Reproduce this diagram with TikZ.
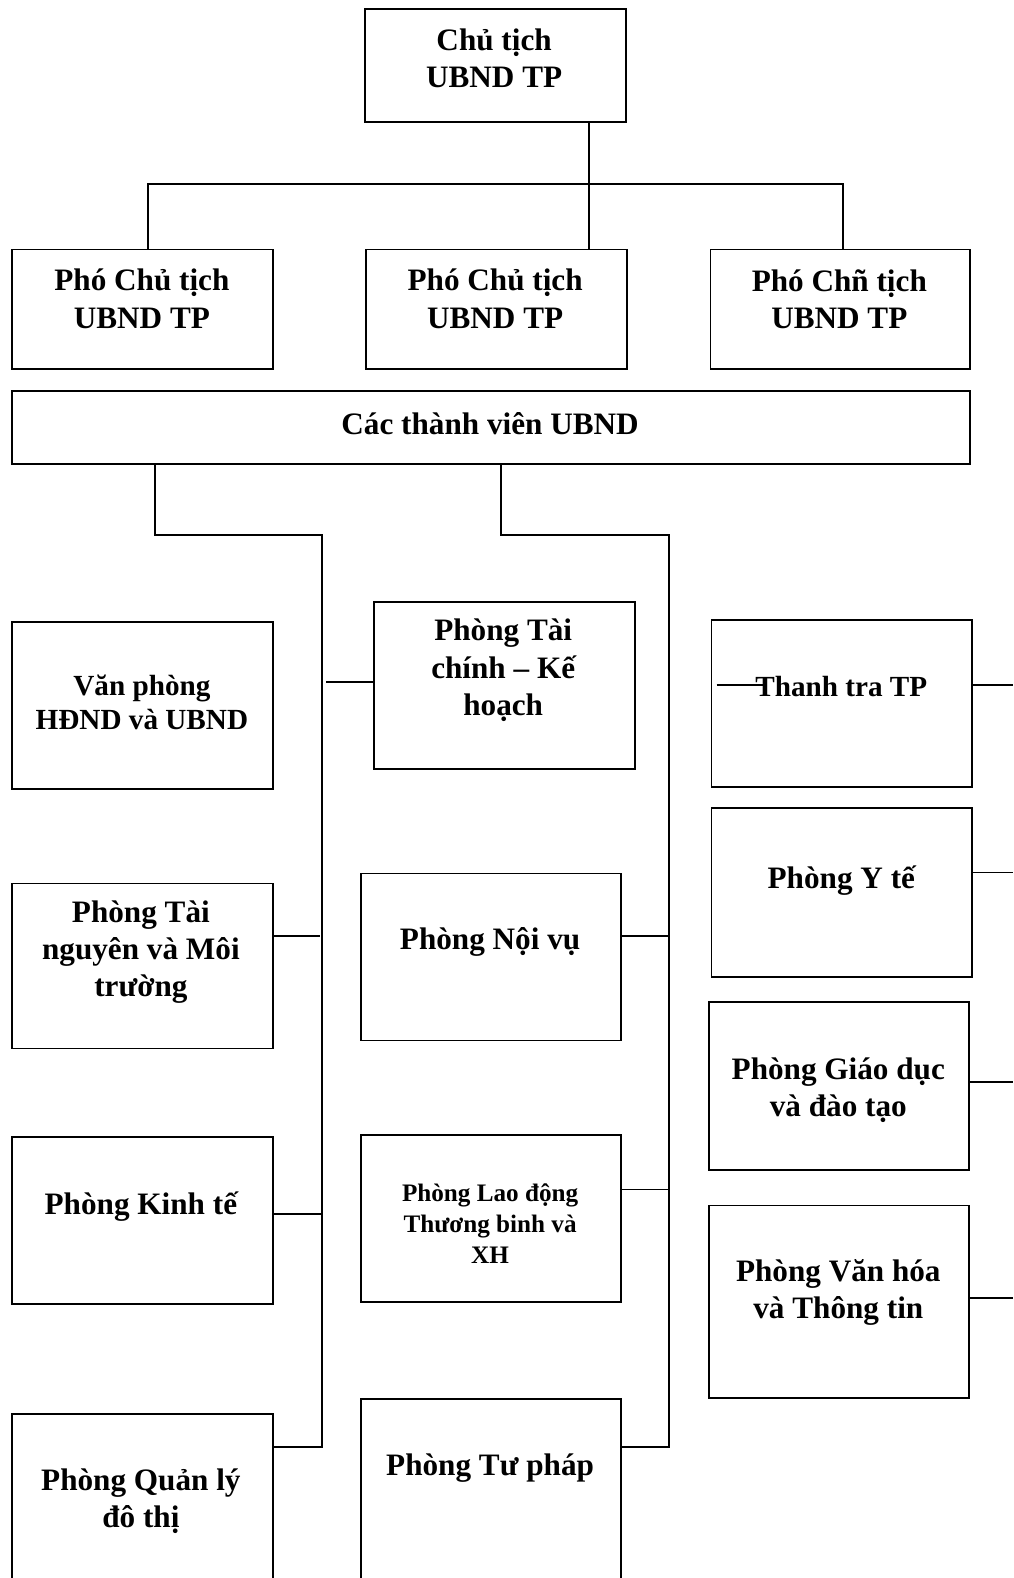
\documentclass[tikz,border=0pt]{standalone}
\usepackage{fontspec}
\setmainfont{Liberation Serif}
\begin{document}
\begin{tikzpicture}[x=1pt,y=-1pt,
  box/.style={draw,line width=1.8pt,inner sep=0pt,anchor=north west},
  txt/.style={inner sep=0pt,align=center,font=\fontsize{31}{37}\selectfont\bfseries},
  txtm/.style={inner sep=0pt,align=center,font=\fontsize{29}{34}\selectfont\bfseries},
  txts/.style={inner sep=0pt,align=center,font=\fontsize{25}{31}\selectfont\bfseries},
  conn/.style={line width=1.8pt}]
\clip (0,0) rectangle (1007,1568);
\fill[white] (0,0) rectangle (1007,1568);
% boxes
\node[box,minimum width=259,minimum height=112] (ct) at (362,8) {};
\node[box,minimum width=259,minimum height=119] (pl) at (11,247) {};
\node[box,minimum width=259,minimum height=119] (pm) at (363,247) {};
\node[box,minimum width=258,minimum height=119] (pr) at (705,247) {};
\node[box,minimum width=952,minimum height=72] (tv) at (11,388) {};
\node[box,minimum width=259,minimum height=166] (vp) at (11,617) {};
\node[box,minimum width=259,minimum height=166] (tc) at (371,597) {};
\node[box,minimum width=259,minimum height=166] (tt) at (706,615) {};
\node[box,minimum width=259,minimum height=164] (tn) at (11,877) {};
\node[box,minimum width=258,minimum height=166] (nv) at (358,867) {};
\node[box,minimum width=259,minimum height=168] (yt) at (706,802) {};
\node[box,minimum width=258,minimum height=167] (gd) at (704,995) {};
\node[box,minimum width=259,minimum height=166] (kt) at (11,1129) {};
\node[box,minimum width=258,minimum height=166] (ld) at (358,1127) {};
\node[box,minimum width=258,minimum height=191] (vh) at (704,1197) {};
\node[box,minimum width=259,minimum height=210] (ql) at (11,1404) {};
\node[box,minimum width=258,minimum height=220] (tp) at (358,1389) {};
% texts
\node[txt] (t-ct) at (491,58) {Chủ tịch\\UBND TP};
\node[txt] (t-pl) at (141,297) {Phó Chủ tịch\\UBND TP};
\node[txt] (t-pm) at (492,297) {Phó Chủ tịch\\UBND TP};
\node[txt] (t-pr) at (834,297) {Phó Chñ tịch\\UBND TP};
\node[txt] (t-tv) at (487,421) {Các thành viên UBND};
\node[txtm] (t-vp) at (141,698) {Văn phòng\\HĐND và UBND};
\node[txt] (t-tc) at (500,666) {Phòng Tài\\chính – Kế\\hoạch};
\node[txtm] (t-tt) at (836,682) {Thanh tra TP};
\node[txt] (t-tn) at (140,946) {Phòng Tài\\nguyên và Môi\\trường};
\node[txt] (t-nv) at (487,936) {Phòng Nội vụ};
\node[txt] (t-yt) at (836,875) {Phòng Y tế};
\node[txt] (t-gd) at (833,1083) {Phòng Giáo dục\\và đào tạo};
\node[txt] (t-kt) at (140,1199) {Phòng Kinh tế};
\node[txts] (t-ld) at (487,1216) {Phòng Lao động\\Thương binh và\\XH};
\node[txt] (t-vh) at (833,1284) {Phòng Văn hóa\\và Thông tin};
\node[txt] (t-ql) at (140,1492) {Phòng Quản lý\\đô thị};
\node[txt] (t-tp) at (487,1459) {Phòng Tư pháp};
% junction coordinates
\coordinate (j0) at (585,183);
\coordinate (jL) at (147,183);
\coordinate (jR) at (838,183);
\coordinate (a1) at (154,532);
\coordinate (a2) at (320,532);
\coordinate (a3) at (320,1438);
\coordinate (m1) at (498,532);
\coordinate (m2) at (665,532);
\coordinate (m3) at (665,1438);
\coordinate (b1) at (324,678);
\coordinate (b2) at (318,930);
\coordinate (b3) at (320,1206);
\coordinate (b4) at (665,930);
\coordinate (b5) at (665,1182);
\coordinate (r00) at (712,681);
\coordinate (r0) at (760,681);
\coordinate (e1) at (1007,681);
\coordinate (e2) at (1007,867);
\coordinate (e3) at (1007,1075);
\coordinate (e4) at (1007,1290);
% connectors
\draw[conn] (j0 |- ct.south) -- (j0 |- pm.north);
\draw[conn] (jL |- pl.north) -- (jL) -- (jR) -- (jR |- pr.north);
\draw[conn] (a1 |- tv.south) -- (a1) -- (a2) -- (a3) -- (a3 -| ql.east);
\draw[conn] (m1 |- tv.south) -- (m1) -- (m2) -- (m3) -- (m3 -| tp.east);
\draw[conn] (b1) -- (b1 -| tc.west);
\draw[conn] (b2 -| tn.east) -- (b2);
\draw[conn] (b3 -| kt.east) -- (b3);
\draw[conn] (b4 -| nv.east) -- (b4);
\draw[conn] (b5 -| ld.east) -- (b5);
\draw[conn] (r00) -- (r0);
\draw[conn] (e1 -| tt.east) -- (e1);
\draw[conn] (e2 -| yt.east) -- (e2);
\draw[conn] (e3 -| gd.east) -- (e3);
\draw[conn] (e4 -| vh.east) -- (e4);
\end{tikzpicture}
\end{document}
